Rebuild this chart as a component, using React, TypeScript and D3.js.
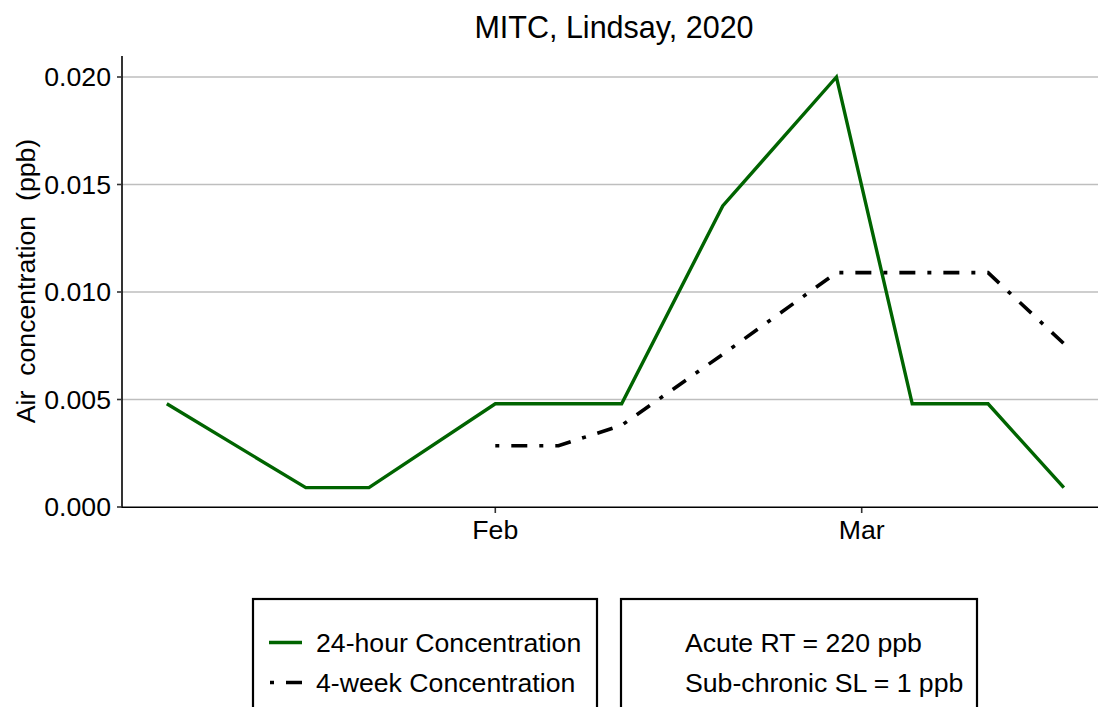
import React from "react";
import * as d3 from "d3";

const titleText = "MITC, Lindsay, 2020";
const yAxisTitle = "Air  concentration  (ppb)";

const dates24 = ["2020-01-06", "2020-01-17", "2020-01-22", "2020-02-01", "2020-02-11", "2020-02-19", "2020-02-28", "2020-03-05", "2020-03-11", "2020-03-17"];
const conc24 = [0.0048, 0.0009, 0.0009, 0.0048, 0.0048, 0.014, 0.02, 0.0048, 0.0048, 0.0009];

const dates4wk = ["2020-02-01", "2020-02-06", "2020-02-11", "2020-02-19", "2020-02-28", "2020-03-11", "2020-03-17"];
const conc4wk = [0.00285, 0.00285, 0.0038, 0.0071, 0.0109, 0.0109, 0.0076];

const xTickDates = ["2020-02-01", "2020-03-01"];
const xTickLabels = ["Feb", "Mar"];
const yTicks = [0, 0.005, 0.01, 0.015, 0.02];

const legendLabels = ["24-hour Concentration", "4-week Concentration"];
const thresholdLabels = ["Acute RT = 220 ppb", "Sub-chronic SL = 1 ppb"];

const W = 1098;
const H = 707;
const FONT = "'Liberation Sans', Arial, sans-serif";
const GREEN = "#006400";

const parse = (s: string) => {
  const [y, m, d] = s.split("-").map(Number);
  return new Date(Date.UTC(y, m - 1, d));
};

export default function App() {
  const panel = { left: 122, top: 56, right: 1110, bottom: 508 };
  const x = d3.scaleUtc().domain([parse("2020-02-01"), parse("2020-03-01")]).range([495.3, 861.7]);
  const y = d3.scaleLinear().domain([0, 0.02]).range([507, 77]);

  const line = d3
    .line<[Date, number]>()
    .x((d) => x(d[0]))
    .y((d) => y(d[1]));

  const pts24 = dates24.map((d, i) => [parse(d), conc24[i]] as [Date, number]);
  const pts4 = dates4wk.map((d, i) => [parse(d), conc4wk[i]] as [Date, number]);

  const fs = 26.67;

  return (
    <svg
      width={W}
      height={H}
      style={{ position: "absolute", left: 0, top: 0, display: "block", background: "#fff" }}
      fontFamily={FONT}
    >
      <rect x={0} y={0} width={W} height={H} fill="#fff" />
      {yTicks.filter((t) => t > 0).map((t) => (
        <line key={t} x1={panel.left} x2={panel.right} y1={y(t)} y2={y(t)} stroke="#bebebe" strokeWidth={1.6} />
      ))}
      <path d={line(pts24) || ""} fill="none" stroke={GREEN} strokeWidth={3.4} strokeLinejoin="miter" />
      <path d={line(pts4) || ""} fill="none" stroke="#000" strokeWidth={3.6} strokeDasharray="4 12 16 12" />
      <line x1={panel.left} x2={panel.left} y1={panel.top} y2={panel.bottom} stroke="#000" strokeWidth={1.6} />
      <line x1={panel.left - 0.8} x2={panel.right} y1={panel.bottom - 0.8} y2={panel.bottom - 0.8} stroke="#000" strokeWidth={1.6} />
      {yTicks.map((t) => (
        <g key={t}>
          <line x1={panel.left - 5} x2={panel.left} y1={y(t)} y2={y(t)} stroke="#333" strokeWidth={1.6} />
          <text x={111} y={y(t) + 9.4} textAnchor="end" fontSize={fs} fill="#000">
            {d3.format(".3f")(t)}
          </text>
        </g>
      ))}
      {xTickDates.map((d, i) => (
        <g key={d}>
          <line x1={x(parse(d))} x2={x(parse(d))} y1={panel.bottom} y2={panel.bottom + 5} stroke="#333" strokeWidth={1.6} />
          <text x={x(parse(d))} y={539} textAnchor="middle" fontSize={fs} fill="#000">
            {xTickLabels[i]}
          </text>
        </g>
      ))}
      <text
        transform={`translate(35, 281) rotate(-90)`}
        textAnchor="middle"
        fontSize={fs}
        fill="#000"
        style={{ whiteSpace: "pre" }}
      >
        {yAxisTitle}
      </text>
      <text x={614} y={38} textAnchor="middle" fontSize={30.5} fill="#000">
        {titleText}
      </text>
      <rect x={253} y={599} width={344} height={140} fill="none" stroke="#000" strokeWidth={2.2} />
      <rect x={621} y={599} width={356} height={140} fill="none" stroke="#000" strokeWidth={2.2} />
      <line x1={269} x2={302} y1={642.5} y2={642.5} stroke={GREEN} strokeWidth={3.4} />
      <line x1={270} x2={302} y1={682.5} y2={682.5} stroke="#000" strokeWidth={3.6} strokeDasharray="4 12 16 12" />
      {legendLabels.map((l, i) => (
        <text key={l} x={316} y={652 + i * 40} fontSize={fs} fill="#000">
          {l}
        </text>
      ))}
      {thresholdLabels.map((l, i) => (
        <text key={l} x={685} y={652 + i * 40} fontSize={fs} fill="#000">
          {l}
        </text>
      ))}
    </svg>
  );
}
